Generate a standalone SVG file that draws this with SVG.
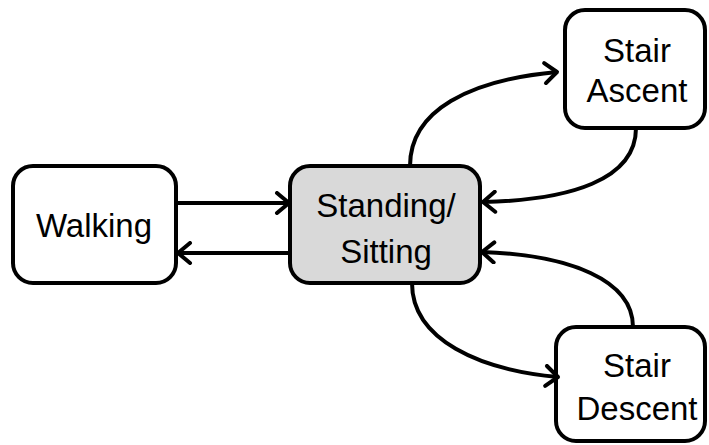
<svg xmlns="http://www.w3.org/2000/svg" width="709" height="445" viewBox="0 0 709 445">
<style>
.box{fill:#fff;stroke:#000;stroke-width:4}
.center{fill:#d9d9d9}
.lbl{font-family:"Liberation Sans",Arial,sans-serif;font-size:33px;fill:#000;text-anchor:middle}
.edge{fill:none;stroke:#000;stroke-width:4}
</style>
<defs>
<marker id="arr" viewBox="0 0 24 24" refX="18" refY="12" markerWidth="24" markerHeight="24" markerUnits="userSpaceOnUse" orient="auto">
<path d="M6,2 L18,12 L6,22" fill="none" stroke="#000" stroke-width="4" stroke-linecap="round" stroke-linejoin="round"/>
</marker>
</defs>
<g id="walking">
<rect class="box" x="13" y="166" width="163" height="117" rx="20"/>
<text class="lbl" x="94" y="237">Walking</text>
</g>
<g id="standing">
<rect class="box center" x="290" y="166" width="190" height="117" rx="20"/>
<text class="lbl" x="386" y="217">Standing/</text>
<text class="lbl" x="386" y="263">Sitting</text>
</g>
<g id="ascent">
<rect class="box" x="565" y="10" width="140" height="118" rx="20"/>
<text class="lbl" x="637" y="62">Stair</text>
<text class="lbl" x="637" y="102">Ascent</text>
</g>
<g id="descent">
<rect class="box" x="556" y="327" width="149" height="114" rx="20"/>
<text class="lbl" x="637" y="377">Stair</text>
<text class="lbl" x="637" y="420">Descent</text>
</g>
<g id="connectors">
<path class="edge" d="M176,203 L289,203" marker-end="url(#arr)"/>
<path class="edge" d="M290,253 L178,253" marker-end="url(#arr)"/>
<path class="edge" d="M410,166 C410,110 470,80 557,72" marker-end="url(#arr)"/>
<path class="edge" d="M636,128 C636,180 570,200 483,202" marker-end="url(#arr)"/>
<path class="edge" d="M412,283 C412,340 480,370 558,377" marker-end="url(#arr)"/>
<path class="edge" d="M633,327 C633,280 570,255 482,252" marker-end="url(#arr)"/>
</g>
</svg>
